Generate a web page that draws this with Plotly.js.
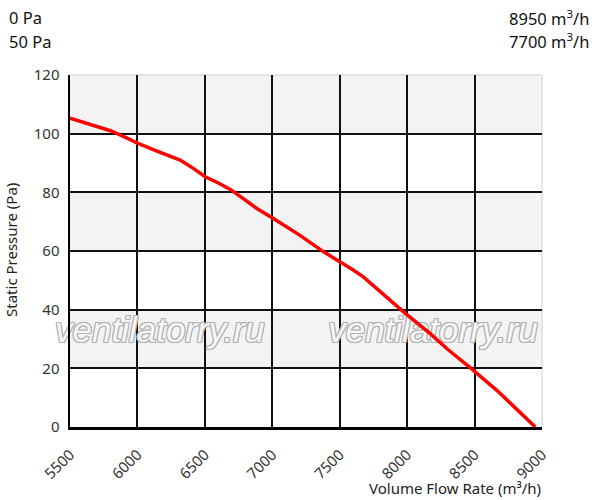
<!DOCTYPE html>
<html>
<head>
<meta charset="utf-8">
<script src="https://cdn.plot.ly/plotly-3.0.1.min.js"></script>
<style>html,body{margin:0;padding:0;background:#fff;}#chart{width:597px;height:500px;}</style>
</head>
<body>
<div id="chart"></div>
<script>
const flowRate = [5500, 5650, 5800, 5900, 6000, 6150, 6317, 6420, 6502, 6600, 6689, 6780, 6885, 7008, 7200, 7378, 7490, 7600, 7675, 7799, 7984, 8169, 8300, 8465, 8663, 8800, 8922, 8950];
const pressure = [105.3, 103.3, 101.0, 99.0, 96.8, 94.0, 91.0, 88.0, 85.3, 83.2, 81.0, 78.0, 74.5, 71.1, 65.5, 59.8, 56.7, 53.5, 51.2, 46.1, 38.8, 31.9, 26.5, 20.3, 12.6, 6.6, 1.2, 0];
const xTicks = [5500, 6000, 6500, 7000, 7500, 8000, 8500, 9000];
const yTicks = [0, 20, 40, 60, 80, 100, 120];
const bandStarts = [20, 60, 100];
const bandHeight = 20;
const infoLeft = ["0 Pa", "50 Pa"];
const infoRight = ["8950 m<sup>3</sup>/h", "7700 m<sup>3</sup>/h"];
const watermarkText = ["ventilatorry.ru", "ventilatorry.ru"];
const watermarkX = [6165, 8191];
const watermarkY = [32, 32];

const tickFont = {family: "Noto Sans", size: 15, color: "#333"};
const titleFont = {family: "Noto Sans", size: 15, color: "#222"};
const infoFont = {family: "Noto Sans", size: 16.5, color: "#111"};

const shapes = bandStarts.map(b => ({
  type: "rect", xref: "paper", yref: "y", x0: 0, x1: 1, y0: b, y1: b + bandHeight,
  fillcolor: "#f3f3f3", line: {width: 0}, layer: "below"
}));
shapes.push({type: "line", xref: "paper", yref: "paper", x0: 0, x1: 1, y0: 1, y1: 1, line: {color: "#dddddd", width: 1.5}, layer: "below"});
shapes.push({type: "line", xref: "paper", yref: "paper", x0: 1, x1: 1, y0: 0, y1: 1, line: {color: "#dddddd", width: 1.5}, layer: "below"});

const annotations = [];
infoLeft.forEach((t, i) => annotations.push({
  text: t, xref: "paper", yref: "paper", x: -0.133, y: 1.162 - i * 0.066,
  xanchor: "left", yanchor: "middle", showarrow: false, font: infoFont
}));
infoRight.forEach((t, i) => annotations.push({
  text: t, xref: "paper", yref: "paper", x: 1.104, y: 1.162 - i * 0.066,
  xanchor: "right", yanchor: "middle", showarrow: false, font: infoFont
}));
annotations.push({
  text: "Volume Flow Rate (m³/h)", xref: "paper", yref: "paper", x: 1.002, y: -0.173,
  xanchor: "right", yanchor: "middle", showarrow: false, font: titleFont
});
annotations.push({
  text: "Static Pressure (Pa)", xref: "paper", yref: "paper", x: -0.125, y: 0.503,
  xanchor: "center", yanchor: "middle", textangle: -90, showarrow: false, font: titleFont
});

const wmShadow = ["1px 0 0", "-1px 0 0", "0 1px 0", "0 -1px 0", "1px 1px 0", "-1px -1px 0", "1px -1px 0", "-1px 1px 0"].map(s => s + " #b0b0b0").join(", ");
const wmTrace = {
  x: watermarkX, y: watermarkY, text: watermarkText, type: "scatter", mode: "text",
  textposition: "middle center",
  textfont: {family: "Liberation Sans", size: 35, style: "italic", color: "#f6f6f6", shadow: wmShadow},
  hoverinfo: "skip", cliponaxis: false
};

const trace = {
  x: flowRate, y: pressure, type: "scatter", mode: "lines",
  line: {color: "#ff0000", width: 3.5, shape: "linear"},
  hoverinfo: "skip"
};

const layout = {
  width: 597, height: 500,
  margin: {l: 70, r: 55, t: 75, b: 73},
  paper_bgcolor: "#ffffff", plot_bgcolor: "#ffffff",
  showlegend: false,
  xaxis: {
    range: [5500, 9000], tickvals: xTicks, ticktext: xTicks.map(String), tickangle: -45,
    showgrid: true, gridcolor: "#111", gridwidth: 2, zeroline: false,
    showline: true, linecolor: "#000", linewidth: 3, ticks: "", tickfont: tickFont,
    ticklabelstandoff: 10, fixedrange: true
  },
  yaxis: {
    range: [0, 120], tickvals: yTicks, ticktext: yTicks.map(String),
    showgrid: true, gridcolor: "#111", gridwidth: 2, zeroline: false,
    showline: true, linecolor: "#000", linewidth: 2.5, ticks: "", tickfont: tickFont,
    ticklabelstandoff: 5, fixedrange: true
  },
  shapes: shapes,
  annotations: annotations
};

Plotly.newPlot("chart", [wmTrace, trace], layout, {displayModeBar: false, staticPlot: true});
</script>
</body>
</html>
